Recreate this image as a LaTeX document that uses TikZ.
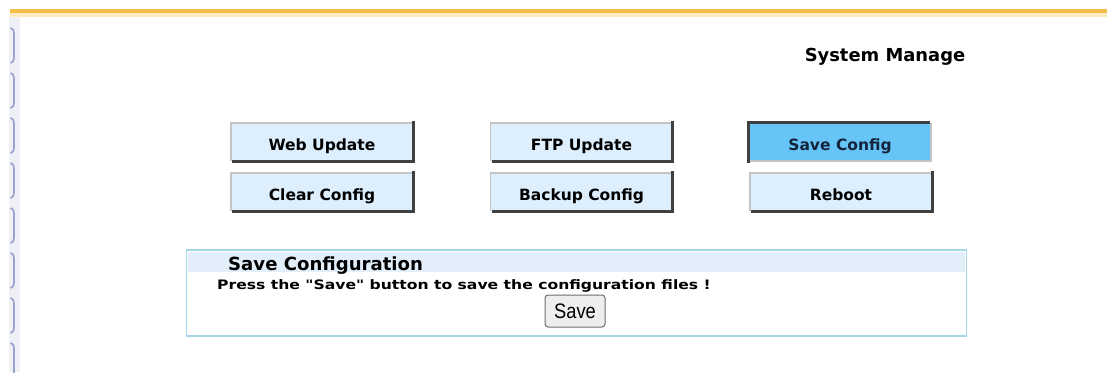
\documentclass[tikz,border=0pt]{standalone}
\usepackage{graphicx}
\usepackage{fontspec}
\newfontfamily\dvs{DejaVu Sans}
\newfontfamily\lib{Liberation Sans}
\definecolor{orangeline}{HTML}{F4BE48}
\definecolor{orangelight}{HTML}{FCEBC0}
\definecolor{btnfill}{HTML}{DDEEFC}
\definecolor{btnsel}{HTML}{66C4F6}
\definecolor{btndark}{HTML}{404040}
\definecolor{btnlight}{HTML}{C4C4C4}
\definecolor{panelborder}{HTML}{A6D6EA}
\definecolor{panelhead}{HTML}{E2EFFA}
\definecolor{strip}{HTML}{EFF0F5}
\definecolor{bracket}{HTML}{9AA2D0}
\definecolor{savefill}{HTML}{EEEEEE}
\definecolor{saveborder}{HTML}{707070}
\definecolor{navytext}{HTML}{14243C}
\begin{document}
\begin{tikzpicture}[x=1pt,y=-1pt,
  btn/.style={rectangle,fill=btnfill,minimum width=182,minimum height=38,inner sep=0,
    text height=16,text depth=0,
    font={\dvs\bfseries\fontsize{15.5}{17}\selectfont},text=black},
  btnsel/.style={btn,fill=btnsel,text=navytext},
  lightedge/.style={draw=btnlight,line width=1.6},
  darkedge/.style={draw=btndark,line width=3},
]
\useasboundingbox (0,0) rectangle (1107,372);
\fill[white] (0,0) rectangle (1107,372);
% top orange line
\fill[orangelight] (10,13) rectangle (1107,17);
\fill[orangeline] (10,9) rectangle (1107,13);
% left strip with brackets
\fill[strip] (9,17) rectangle (20,372);
\foreach \y in {28,73,118,163,208,253,298,343}{
  \draw[bracket,line width=1.7] (10.5,\y) .. controls (14,\y+1) and (14,\y+4) .. (14,\y+8)
    -- (14,\y+27) .. controls (14,\y+31) and (14,\y+34) .. (10.5,\y+35);
}
% title
\node[font={\dvs\bfseries\fontsize{17.9}{19}\selectfont},inner sep=0] (title) at (885,57) {System Manage};
% buttons
\node[btn] (web) at (322,142) {Web Update};
\node[btn] (ftp) at (581.5,142) {FTP Update};
\node[btnsel] (savecfg) at (840,142) {Save Config};
\node[btn] (clear) at (322,192) {Clear Config};
\node[btn] (backup) at (581.5,192) {Backup Config};
\node[btn] (reboot) at (841,192) {Reboot};
\foreach \n in {web,ftp,clear,backup,reboot}{
  \draw[lightedge] (\n.south west) |- (\n.north east);
  \draw[darkedge] ([xshift=1.5]\n.south west) -| ([yshift=1.5]\n.north east);
}
\draw[lightedge] (savecfg.south west) -| (savecfg.north east);
\draw[darkedge] ([yshift=-1.5]savecfg.south west) |- ([xshift=-1.5]savecfg.north east);
% panel
\node[rectangle,draw=panelborder,line width=1.6,fill=white,minimum width=780,minimum height=86,inner sep=0,anchor=north west] (panel) at (185.5,249) {};
\fill[panelhead] ([shift={(2.5,2.5)}]panel.north west) rectangle ([shift={(-2.5,23)}]panel.north east);
\node[font={\dvs\bfseries\fontsize{18.1}{19}\selectfont},anchor=base west,inner sep=0] (ptitle) at (228,270) {Save Configuration};
\node[font={\dvs\bfseries\fontsize{13}{14}\selectfont},anchor=base west,inner sep=0] (ptext) at (217,289) {\scalebox{1.2}[1]{Press the "Save" button to save the configuration files !}};
\node[rectangle,rounded corners=3,draw=saveborder,line width=1,fill=savefill,minimum width=60,minimum height=32,inner sep=0,
  font={\lib\fontsize{21}{22}\selectfont}] (savebtn) at (575,311) {\scalebox{0.87}[1]{Save}};
\end{tikzpicture}
\end{document}
